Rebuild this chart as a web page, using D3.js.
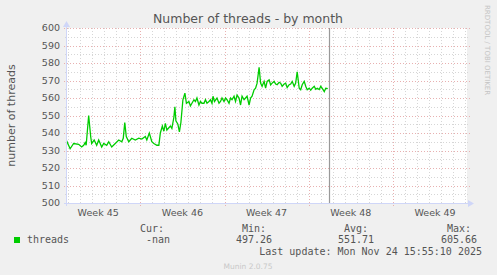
<!DOCTYPE html>
<html>
<head>
<meta charset="utf-8">
<script src="https://cdn.jsdelivr.net/npm/d3@7"></script>
<style>
  body { margin: 0; background: #F0F0F0; }
  svg { display: block; }
</style>
</head>
<body>
<svg id="chart" width="497" height="275"></svg>
<script>
// hours relative to Sun 2025-11-09 00:00 UTC
var hours = [-147, -140, -133, -123, -117, -113, -110, -108, -103, -99, -97, -92, -87, -83, -77, -73,
  -67, -63, -57, -50, -43, -37, -34, -31, -28, -23, -17, -10, -3, 3, 10, 13, 18, 23, 27, 33, 37,
  40, 44, 47, 50, 53, 57, 60, 63, 67, 69, 71, 75, 78, 81, 85, 89, 92, 97, 100, 103, 107, 110, 113,
  117, 120, 123, 127, 130, 133, 137, 140, 143, 145, 148, 153, 157, 160, 163, 167, 170, 173, 177,
  180, 183, 187, 190, 193, 197, 200, 203, 207, 210, 213, 217, 220, 223, 227, 230, 233, 237, 240,
  243, 247, 250, 253, 257, 260, 263, 267, 270, 273, 277, 280, 283, 287, 290, 293, 297, 300, 303,
  307, 310, 313, 317, 320, 323, 327, 330, 333, 337, 340, 343, 347, 350, 353, 357, 360, 363, 367,
  370, 374];
var threads = [535.5, 531, 534, 533.5, 532, 533, 534.5, 533, 550, 538, 534, 536, 533, 536, 532, 534,
  533, 535, 532, 534, 536, 535, 537, 546, 538, 535, 537, 536, 537, 536.5, 538, 536, 540, 535, 534, 533, 533,
  540, 544, 541, 545.5, 541.7, 543, 544, 542.6, 549, 555, 547, 545, 540.7, 546, 559, 562.8, 557, 558, 555.5, 557, 559, 558, 560,
  556, 558, 557, 557, 559, 557, 558, 559, 557, 561, 558, 560, 557, 558, 560, 558, 560, 559, 557,
  560, 559, 561, 558, 561.7, 560, 556, 561, 559, 560, 561, 556, 560, 561, 564.7, 565.6, 568.5, 577.5, 568.5,
  566.7, 569.5, 565.6, 569.5, 570.4, 567.5, 568.5, 569.5, 568, 567.6, 569, 568.5, 566.7, 568, 568.5, 566, 567.6, 568, 569.5,
  566.7, 568.5, 575, 565.6, 564.7, 567.6, 569.5, 566.7, 564.7, 565.6, 564.5, 565.6, 566.7, 565, 565.6, 564.8, 566.7, 565.5, 563.7,
  565.6, 565.3];

var yTicks = [500, 510, 520, 530, 540, 550, 560, 570, 580, 590, 600];
var weekLabels = ['Week 45', 'Week 46', 'Week 47', 'Week 48', 'Week 49'];
var weekStarts = ['2025-11-02', '2025-11-09', '2025-11-16', '2025-11-23', '2025-11-30'];
var legendHeads = ['Cur:', 'Min:', 'Avg:', 'Max:'];
var legendVals = ['-nan', '497.26', '551.71', '605.66'];
var lastUpdate = '2025-11-24T15:55:10Z';

var svg = d3.select('#chart');
var margin = {top: 28, left: 67, width: 400, height: 175};

var base = new Date('2025-11-09T00:00:00Z');
var x = d3.scaleUtc()
    .domain([new Date('2025-11-02T21:46:00Z'), new Date('2025-12-06T03:46:00Z')])
    .range([margin.left, margin.left + margin.width]);
var y = d3.scaleLinear().domain([500, 600]).range([margin.top + margin.height, margin.top]);

var data = hours.map(function(h, i) {
    return {t: new Date(base.getTime() + h * 3600000), v: threads[i]};
});

// canvas
svg.append('rect')
    .attr('x', margin.left).attr('y', margin.top)
    .attr('width', margin.width).attr('height', margin.height)
    .attr('fill', '#FFFFFF');

var x0 = margin.left, x1 = margin.left + margin.width;
var y0 = margin.top, y1 = margin.top + margin.height;
var minorCol = '#D6D6D6', majorCol = '#E8B0B0';

// minor grid - days and every 5 units
var days = d3.utcDay.range(x.domain()[0], x.domain()[1]);
svg.append('g').selectAll('line').data(days).enter().append('line')
    .attr('x1', function(d) { return Math.round(x(d)) + 0.5; })
    .attr('x2', function(d) { return Math.round(x(d)) + 0.5; })
    .attr('y1', y0).attr('y2', y1)
    .attr('stroke', minorCol).attr('stroke-dasharray', '1,2');

var minorY = d3.range(505, 600, 10);
svg.append('g').selectAll('line').data(minorY).enter().append('line')
    .attr('x1', x0 - 2).attr('x2', x1 + 2)
    .attr('y1', function(d) { return Math.round(y(d)) + 0.5; })
    .attr('y2', function(d) { return Math.round(y(d)) + 0.5; })
    .attr('stroke', minorCol).attr('stroke-dasharray', '1,2');

// major grid - weeks and every 10 units
var weeks = weekStarts.slice(1).map(function(s) { return new Date(s + 'T00:00:00Z'); });
svg.append('g').selectAll('line').data(weeks).enter().append('line')
    .attr('x1', function(d) { return Math.round(x(d)) + 0.5; })
    .attr('x2', function(d) { return Math.round(x(d)) + 0.5; })
    .attr('y1', y0).attr('y2', y1 + 3)
    .attr('stroke', majorCol).attr('stroke-dasharray', '1,2');

svg.append('g').selectAll('line').data(yTicks.slice(1)).enter().append('line')
    .attr('x1', x0 - 3).attr('x2', x1 + 3)
    .attr('y1', function(d) { return Math.round(y(d)) + 0.5; })
    .attr('y2', function(d) { return Math.round(y(d)) + 0.5; })
    .attr('stroke', majorCol).attr('stroke-dasharray', '1,2');

// y tick labels
svg.append('g').selectAll('text').data(yTicks).enter().append('text')
    .attr('x', 60).attr('y', function(d) { return y(d); })
    .attr('dy', '0.36em')
    .attr('text-anchor', 'end')
    .style('font', '9.5px "DejaVu Sans"').style('fill', '#555')
    .text(function(d) { return d; });

// x labels at mid-week
svg.append('g').selectAll('text').data(weekStarts).enter().append('text')
    .attr('x', function(d) { return x(new Date(new Date(d + 'T00:00:00Z').getTime() + 3.5 * 86400000)); })
    .attr('y', 216)
    .attr('text-anchor', 'middle')
    .style('font', '9.5px "DejaVu Sans"').style('fill', '#555')
    .text(function(d, i) { return weekLabels[i]; });

// data line
var line = d3.line()
    .x(function(d) { return x(d.t); })
    .y(function(d) { return y(d.v); });
svg.append('path')
    .datum(data)
    .attr('d', line)
    .attr('fill', 'none')
    .attr('stroke', '#00CC00')
    .attr('stroke-width', 1.3);

// now line
var now = new Date(lastUpdate);
svg.append('line')
    .attr('x1', Math.round(x(now)) + 0.5).attr('x2', Math.round(x(now)) + 0.5)
    .attr('y1', y0).attr('y2', y1)
    .style('stroke', '#999999').style('stroke-width', 1.2);

// axes with arrows
svg.append('line').attr('x1', x0 - 3).attr('x2', x1 + 3).attr('y1', y1 + 0.5).attr('y2', y1 + 0.5)
    .attr('stroke', '#CFD6F8');
svg.append('line').attr('x1', x0 - 0.5).attr('x2', x0 - 0.5).attr('y1', y1 + 3).attr('y2', y0 - 4)
    .attr('stroke', '#CFD6F8');
svg.append('path')
    .attr('d', 'M' + (x1 + 1) + ',' + (y1 - 3) + 'L' + (x1 + 7) + ',' + (y1 + 0.5) + 'L' + (x1 + 1) + ',' + (y1 + 4) + 'Z')
    .attr('fill', '#CFD6F8');
svg.append('path')
    .attr('d', 'M' + (x0 - 4) + ',' + (y0 - 1) + 'L' + (x0 - 0.5) + ',' + (y0 - 7) + 'L' + (x0 + 3) + ',' + (y0 - 1) + 'Z')
    .attr('fill', '#CFD6F8');

// title
svg.append('text')
    .attr('x', 248).attr('y', 23)
    .attr('text-anchor', 'middle')
    .style('font', '12.5px "DejaVu Sans"').style('fill', '#555')
    .text('Number of threads - by month');

// y axis title
svg.append('text')
    .attr('transform', 'translate(15,' + (y0 + margin.height / 2) + ') rotate(-90)')
    .attr('text-anchor', 'middle')
    .style('font', '11px "DejaVu Sans"').style('fill', '#555')
    .text('number of threads');

// watermark
svg.append('text')
    .attr('transform', 'translate(485,5) rotate(90)')
    .attr('text-anchor', 'start')
    .style('font', '7px "DejaVu Sans"').style('fill', '#C4C4C4')
    .text('RRDTOOL / TOBI OETIKER');

// legend
svg.append('rect')
    .attr('x', 14).attr('y', 237).attr('width', 6).attr('height', 6)
    .attr('fill', '#00CC00');
var mono = '10px "DejaVu Sans Mono"';
svg.append('text').attr('x', 27).attr('y', 243)
    .style('font', mono).style('fill', '#555').text('threads');

var colEnds = [164, 266, 368, 471];
svg.append('g').selectAll('text').data(legendHeads).enter().append('text')
    .attr('x', function(d, i) { return colEnds[i]; }).attr('y', 232)
    .attr('text-anchor', 'end')
    .style('font', mono).style('fill', '#555')
    .text(function(d) { return d; });
svg.append('g').selectAll('text').data(legendVals).enter().append('text')
    .attr('x', function(d, i) { return colEnds[i] + 6; }).attr('y', 243)
    .attr('text-anchor', 'end')
    .style('font', mono).style('fill', '#555')
    .text(function(d) { return d; });

svg.append('text').attr('x', 482).attr('y', 255)
    .attr('text-anchor', 'end')
    .style('font', mono).style('fill', '#555')
    .text('Last update: Mon Nov 24 15:55:10 2025');

svg.append('text').attr('x', 248).attr('y', 269)
    .attr('text-anchor', 'middle')
    .style('font', '7.5px "DejaVu Sans"').style('fill', '#C8C8C8')
    .text('Munin 2.0.75');
</script>
</body>
</html>
